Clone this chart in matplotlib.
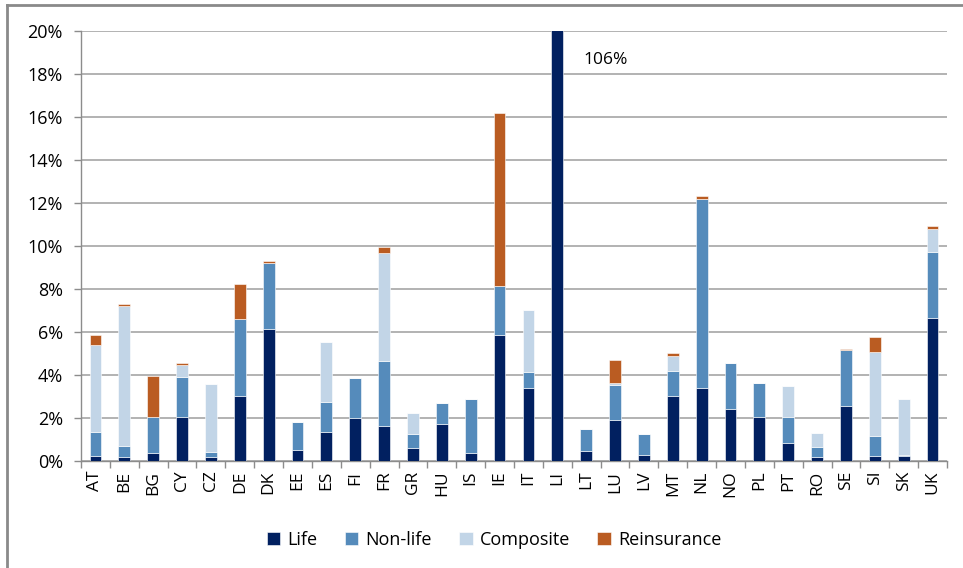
import numpy as np
import matplotlib.pyplot as plt
from matplotlib.lines import Line2D
from matplotlib.ticker import FuncFormatter

plt.rcParams['font.family'] = ['Open Sans', 'DejaVu Sans']

countries = ['AT', 'BE', 'BG', 'CY', 'CZ', 'DE', 'DK', 'EE', 'ES', 'FI', 'FR', 'GR', 'HU', 'IS', 'IE',
             'IT', 'LI', 'LT', 'LU', 'LV', 'MT', 'NL', 'NO', 'PL', 'PT', 'RO', 'SE', 'SI', 'SK', 'UK']
# shares in %, per business type
life = [0.25, 0.2, 0.35, 2.05, 0.2, 3.0, 6.15, 0.5, 1.35, 2.0, 1.65, 0.6, 1.7, 0.35, 5.85,
        3.4, 106.0, 0.45, 1.9, 0.3, 3.0, 3.4, 2.4, 2.05, 0.85, 0.2, 2.55, 0.25, 0.25, 6.65]
nonlife = [1.1, 0.5, 1.7, 1.85, 0.2, 3.6, 3.05, 1.3, 1.4, 1.85, 3.0, 0.65, 1.0, 2.55, 2.3,
           0.75, 0.0, 1.05, 1.65, 0.95, 1.2, 8.8, 2.15, 1.6, 1.2, 0.45, 2.6, 0.9, 0.05, 3.05]
composite = [4.05, 6.5, 0.0, 0.55, 3.2, 0.0, 0.0, 0.0, 2.8, 0.0, 5.0, 1.0, 0.0, 0.0, 0.0,
             2.85, 0.0, 0.0, 0.1, 0.0, 0.7, 0.0, 0.0, 0.0, 1.45, 0.65, 0.0, 3.9, 2.6, 1.1]
reinsurance = [0.45, 0.1, 1.9, 0.1, 0.0, 1.65, 0.08, 0.0, 0.0, 0.0, 0.3, 0.0, 0.0, 0.0, 8.05,
               0.0, 0.0, 0.0, 1.05, 0.0, 0.1, 0.12, 0.0, 0.0, 0.0, 0.0, 0.07, 0.7, 0.0, 0.12]

series = [('Life', life, '#012060'),
          ('Non-life', nonlife, '#558bbb'),
          ('Composite', composite, '#c2d5e7'),
          ('Reinsurance', reinsurance, '#ba5c22')]

fig = plt.figure(figsize=(9.63, 5.68), dpi=100)
ax = fig.add_axes([0.0841, 0.1884, 0.8993, 0.7571])

x = np.arange(len(countries))
bottom = np.zeros(len(countries))
for name, vals, col in series:
    vals = np.array(vals)
    ax.bar(x, vals, 0.41, bottom=bottom, color=col, edgecolor='white', linewidth=0.4, label=name, zorder=3)
    bottom += vals

ax.set_xlim(-0.5, len(countries) - 0.5)
ax.set_ylim(0, 20)
ax.set_yticks(np.arange(0, 21, 2))
ax.yaxis.set_major_formatter(FuncFormatter(lambda v, p: '%d%%' % v))
ax.grid(axis='y', color='#a6a6a6', linewidth=1.2, zorder=0)

ax.set_xticks(x)
ax.set_xticklabels(countries, rotation=90, fontsize=12.5)
ax.set_xticks(np.arange(-0.5, len(countries)), minor=True)
ax.tick_params(axis='x', which='major', length=0, pad=7)
ax.tick_params(axis='x', which='minor', length=5, color='#8c8c8c', width=1)
ax.tick_params(axis='y', length=5, color='#8c8c8c', width=1, labelsize=13, pad=8)

for s in ['top', 'right']:
    ax.spines[s].set_visible(False)
for s in ['left', 'bottom']:
    ax.spines[s].set_color('#8c8c8c')
    ax.spines[s].set_linewidth(1)

# LI is far off the scale, so its value is written next to the bar
li = countries.index('LI')
ax.text(li + 0.9, 18.65, '%d%%' % life[li], fontsize=12.5, va='center', ha='left')

leg = ax.legend(loc='center', bbox_to_anchor=(0.477, -0.184), ncol=4, frameon=False, fontsize=13,
                handlelength=0.75, handleheight=0.75, handletextpad=0.4, columnspacing=1.5)

# outer chart border
fig.add_artist(Line2D([7 / 963, 1], [1 - 5 / 568, 1 - 5 / 568], color='#8a8a8a', linewidth=2))
fig.add_artist(Line2D([7 / 963, 7 / 963], [0, 1 - 5 / 568], color='#8a8a8a', linewidth=2))

fig.savefig('out.png', dpi=100)
